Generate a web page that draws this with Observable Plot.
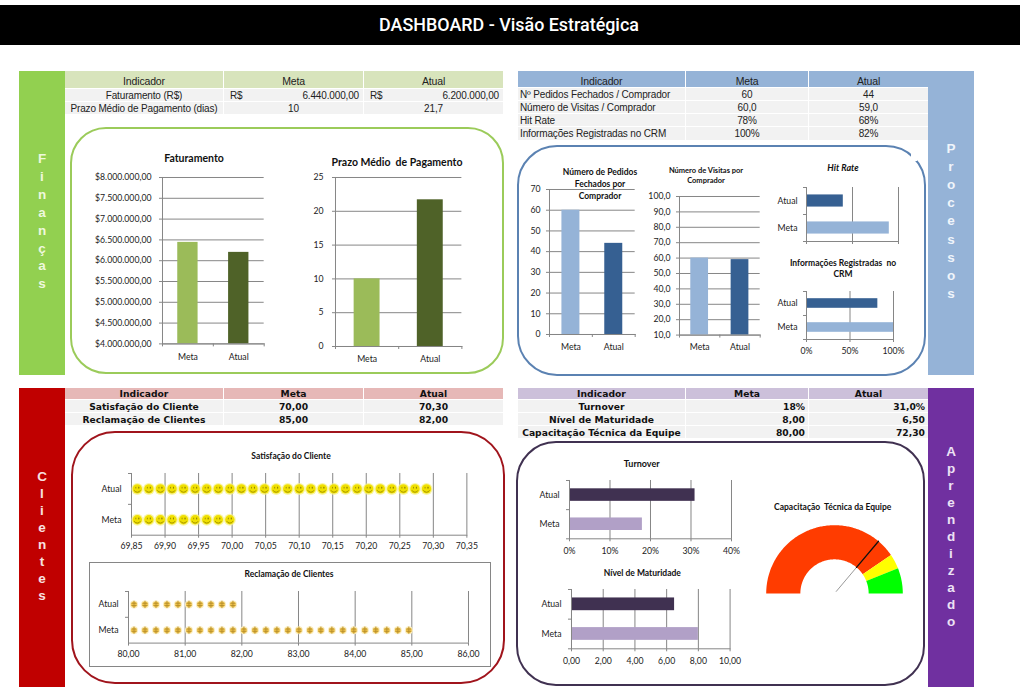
<!DOCTYPE html>
<html lang="pt-BR"><head><meta charset="utf-8">
<script src="https://cdn.jsdelivr.net/npm/d3@7"></script>
<script src="https://cdn.jsdelivr.net/npm/@observablehq/plot@0.6"></script>
<style>
html,body{margin:0;padding:0;background:#fff;width:1020px;height:695px;overflow:hidden}
#page{position:relative;width:1020px;height:695px;overflow:hidden;font-family:"Liberation Sans",sans-serif}
#page>*{position:absolute}
.t{white-space:pre;transform:translate(-50%,-50%);font-family:Lato,sans-serif;font-weight:700;color:#111;line-height:1}
.cell{white-space:pre;display:flex;align-items:center;box-sizing:border-box;color:#222;overflow:hidden}
svg{background:transparent!important;overflow:visible}
</style></head><body><div id="page"></div>
<script>
// ---------- data ----------
const categorias = ["Meta", "Atual"];
const categoriasH = ["Atual", "Meta"];
const faturamento = [6440000, 6200000];
const prazo = [10, 21.7];
const pedidos = [60, 44];
const visitas = [60, 59];
const hitRate = [78, 68];
const crm = [100, 82];
const satisfacao = [70.0, 70.3];
const reclamacao = [85, 82];
const turnover = [18, 31];
const maturidade = [8, 6.5];
const capacitacao = 72.3;
const gaugeLimites = [0, 81, 88, 100];
const gaugeCores = ["#FF3C00", "#FFFF00", "#00FF00"];

const ticksFat = [4, 4.5, 5, 5.5, 6, 6.5, 7, 7.5, 8].map(d => d * 1e6);
const ticksPrazo = [0, 5, 10, 15, 20, 25];
const ticksPedidos = [0, 10, 20, 30, 40, 50, 60, 70];
const ticksVisitas = [10, 20, 30, 40, 50, 60, 70, 80, 90, 100];
const ticksHit = [60, 70, 80];
const ticksCrm = [0, 50, 100];
const ticksSat = [69.85, 69.9, 69.95, 70, 70.05, 70.1, 70.15, 70.2, 70.25, 70.3, 70.35];
const ticksRec = [80, 81, 82, 83, 84, 85, 86];
const ticksTurn = [0, 10, 20, 30, 40];
const ticksMat = [0, 2, 4, 6, 8, 10];

const tabFinancas = [["Indicador", "Meta", "Atual"],
  ["Faturamento (R$)", "6.440.000,00", "6.200.000,00"],
  ["Prazo Médio de Pagamento (dias)", "10", "21,7"]];
const tabProcessos = [["Indicador", "Meta", "Atual"],
  ["Nº Pedidos Fechados / Comprador", "60", "44"],
  ["Número de Visitas / Comprador", "60,0", "59,0"],
  ["Hit Rate", "78%", "68%"],
  ["Informações Registradas no CRM", "100%", "82%"]];
const tabClientes = [["Indicador", "Meta", "Atual"],
  ["Satisfação do Cliente", "70,00", "70,30"],
  ["Reclamação de Clientes", "85,00", "82,00"]];
const tabAprendizado = [["Indicador", "Meta", "Atual"],
  ["Turnover", "18%", "31,0%"],
  ["Nível de Maturidade", "8,00", "6,50"],
  ["Capacitação Técnica da Equipe", "80,00", "72,30"]];

const verdes = ["#9BBB59", "#4F6228"];
const azuis = ["#95B3D7", "#366092"];
const roxos = ["#B1A0C7", "#403151"];
const GREY = "#868686";

// ---------- helpers ----------
const page = document.getElementById("page");
const loc = d3.formatLocale({decimal: ",", thousands: ".", grouping: [3], currency: ["$", ""]});
function box(x, y, w, h, css) {
  const d = document.createElement("div");
  d.style.cssText = `left:${x}px;top:${y}px;width:${w}px;height:${h}px;box-sizing:border-box;${css || ""}`;
  page.appendChild(d); return d;
}
function label(txt, cx, cy, size, extra) {
  const d = document.createElement("div");
  d.className = "t"; d.textContent = txt;
  d.style.cssText = `left:${cx}px;top:${cy}px;font-size:${size}px;${extra || ""}`;
  page.appendChild(d);
}
function side(x, w, y, h, color, txtColor, word, start, step) {
  box(x, y, w, h, `background:${color}`);
  [...word].forEach((c, i) => label(c, x + w / 2, start + i * step, 13.5,
    `font-family:'Liberation Sans';color:${txtColor}`));
}
function table(rows, xs, ys, headColor, o) {
  rows.forEach((r, ri) => r.forEach((txt, ci) => {
    const c = box(xs[ci], ys[ri], xs[ci + 1] - xs[ci] - (ci < 2 ? 1 : 0), ys[ri + 1] - ys[ri] - 1,
      `background:${ri ? "#F2F2F2" : headColor};` + o.font);
    c.className = "cell";
    const isHead = ri === 0;
    let al = "center";
    if (!isHead && ci === 0 && o.firstLeft) al = "flex-start";
    if (!isHead && ci > 0 && o.right) al = "flex-end";
    if (o.rs && !isHead && ri === 1 && ci > 0) {
      c.style.justifyContent = "space-between";
      c.style.padding = "0 4px 0 6px";
      c.innerHTML = `<span>R$</span><span>${txt}</span>`;
      return;
    }
    c.style.justifyContent = al;
    c.style.padding = al === "flex-start" ? "0 0 0 2px" : al === "flex-end" ? "0 3px 0 0" : "0";
    if (isHead && o.headPad) { c.style.paddingTop = o.headPad + "px"; c.style.fontSize = "10.5px"; }
    c.textContent = txt;
  }));
}
const M = {l: 90, r: 14, t: 8, b: 26};
function mount(rect, marks, opts) {
  const svg = Plot.plot({
    width: rect[1] - rect[0] + M.l + M.r,
    height: rect[3] - rect[2] + M.t + M.b,
    marginLeft: M.l, marginRight: M.r, marginTop: M.t, marginBottom: M.b,
    style: {fontFamily: "Lato, sans-serif", fontSize: "8.7px", color: "#222", background: "transparent"},
    marks, ...opts
  });
  svg.style.left = rect[0] - M.l + "px";
  svg.style.top = rect[2] - M.t + "px";
  svg.style.position = "absolute";
  page.appendChild(svg);
}
function colChart(rect, values, ticks, fmt, cores, padding, tickPad, labelPad) {
  const rows = categorias.map((c, i) => ({c, v: values[i]}));
  const y0 = ticks[0], y1 = ticks[ticks.length - 1];
  const step = (rect[1] - rect[0]) / 2;
  mount(rect, [
    Plot.gridY(ticks, {stroke: GREY, strokeOpacity: 1}),
    Plot.barY(rows, {x: "c", y1: y0, y2: "v", fill: "c"}),
    Plot.frame({anchor: "left", stroke: GREY}),
    Plot.frame({anchor: "bottom", stroke: GREY}),
    Plot.axisY({ticks, tickSize: 3, tickPadding: tickPad, tickFormat: fmt, label: null, stroke: GREY}),
    Plot.axisX({tickSize: 0, tickPadding: labelPad, label: null}),
    Plot.ruleX([categorias[0]], {x: d => d, y1: y0, y2: y0, dx: -step / 2 * 1, insetBottom: -3, stroke: GREY}),
    Plot.ruleX(categorias, {x: d => d, y1: y0, y2: y0, dx: step / 2, insetBottom: -3, stroke: GREY})
  ], {
    x: {domain: categorias, paddingInner: padding, paddingOuter: padding / 2, round: false, label: null},
    y: {domain: [y0, y1], label: null},
    color: {domain: categorias, range: cores}
  });
}
function barChart(rect, values, ticks, fmt, cores, padding, labelPad, tickPad) {
  const rows = categorias.map((c, i) => ({c, v: values[i]}));
  const x0 = ticks[0], x1 = ticks[ticks.length - 1];
  const step = (rect[3] - rect[2]) / 2;
  mount(rect, [
    Plot.gridX(ticks, {stroke: GREY, strokeOpacity: 1}),
    Plot.barX(rows, {y: "c", x1: x0, x2: "v", fill: "c"}),
    Plot.frame({anchor: "left", stroke: GREY}),
    Plot.frame({anchor: "bottom", stroke: GREY}),
    Plot.axisX({ticks, tickSize: 3, tickPadding: tickPad, tickFormat: fmt, label: null, stroke: GREY}),
    Plot.axisY({tickSize: 0, tickPadding: labelPad, label: null}),
    Plot.ruleY(categoriasH, {y: d => d, x1: x0, x2: x0, dy: -step / 2, insetLeft: -3, stroke: GREY}),
    Plot.ruleY(["Meta"], {y: d => d, x1: x0, x2: x0, dy: step / 2, insetLeft: -3, stroke: GREY})
  ], {
    y: {domain: categoriasH, paddingInner: padding, paddingOuter: padding / 2, round: false, label: null},
    x: {domain: [x0, x1], label: null},
    color: {domain: categorias, range: cores}
  });
}
const smile = {draw(c, s) {
  const r = Math.sqrt(s / Math.PI);
  c.moveTo(-r * .62, r * .3); c.arc(0, 0, r * .72, Math.PI * .86, Math.PI * .14, true);
  c.moveTo(-r * .32, -r * .45); c.lineTo(-r * .32, -r * .1);
  c.moveTo(r * .32, -r * .45); c.lineTo(r * .32, -r * .1);
  c.closePath();
}};
const coin = {draw(c, s) {
  const r = Math.sqrt(s / Math.PI);
  c.moveTo(0, -r * 1.15); c.lineTo(0, r * 1.15);
  c.moveTo(-r * .8, -r * .35); c.lineTo(r * .8, -r * .35);
  c.moveTo(-r * .8, r * .35); c.lineTo(r * .8, r * .35);
}};
function picto(rect, values, ticks, unit, marksFor) {
  const x0 = ticks[0], xN = ticks[ticks.length - 1];
  const pts = categorias.flatMap((c, i) =>
    d3.range(x0 + unit / 2, values[i], unit).map(v => ({c, v})));
  const step = (rect[3] - rect[2]) / 2;
  mount(rect, [
    Plot.gridX(ticks, {stroke: GREY, strokeOpacity: 1}),
    Plot.frame({anchor: "left", stroke: GREY}),
    Plot.frame({anchor: "bottom", stroke: GREY}),
    Plot.axisX({ticks, tickSize: 3, tickPadding: 5, tickFormat: loc.format(",.2f"), label: null, stroke: GREY}),
    Plot.axisY({tickSize: 0, tickPadding: 10, label: null}),
    Plot.ruleY(categoriasH, {y: d => d, x1: x0, x2: x0, dy: -step / 2, insetLeft: -3, stroke: GREY}),
    ...marksFor(pts)
  ], {
    y: {domain: categoriasH, round: false, paddingInner: 0, paddingOuter: 0, label: null},
    x: {domain: [x0, xN], label: null}
  });
}

// ---------- page ----------
box(0, 5, 1020, 40, "background:#000");
label("DASHBOARD - Visão Estratégica", 509, 25, 17.9, "font-family:Roboto;font-weight:500;color:#fff");

side(19, 46, 71, 304, "#92D050", "#EEF8DE", "Finanças", 159, 17.9);
side(928, 46, 71, 304, "#95B3D7", "#F0F5FB", "Processos", 149, 18.1);
side(19, 46, 388, 299, "#C00000", "#F8E0E0", "Clientes", 477, 17);
side(928, 46, 388, 299, "#7030A0", "#ECE2F5", "Aprendizado", 451.5, 17);

const fontN = "font-family:'Liberation Sans';font-size:10px;letter-spacing:-.15px;";
const fontB = "font-family:'DejaVu Sans';font-weight:700;font-size:9.2px;color:#111;";
table(tabFinancas, [65, 224, 364, 503], [71, 89, 102, 115], "#D8E4BC", {font: fontN, rs: true, headPad: 3});
table(tabProcessos, [518, 686, 809, 928], [71, 88, 101, 114, 127, 141], "#95B3D7", {font: fontN, firstLeft: true, headPad: 3});
table(tabClientes, [65, 224, 364, 503], [388, 400, 413, 426], "#E6B8B7", {font: fontB});
table(tabAprendizado, [518, 686, 809, 928], [388, 400, 413, 426, 439], "#CCC0DA", {font: fontB, right: true});

const panel = (x0, y0, x1, y1, c, r) => box(x0, y0, x1 - x0, y1 - y0, `border:2.5px solid ${c};border-radius:${r}px`);
panel(70, 127, 504, 374, "#9BCB5A", 36);
panel(517, 145, 926, 376, "#5B82B2", 40);
panel(71, 431, 505, 684, "#A0141C", 44);
panel(516, 441, 925, 686, "#403151", 40);
box(911, 153, 6, 8, "background:#fff");
box(89, 562, 402, 105, `border:1px solid ${GREY};background:#fff`);

// Finanças
const fmtReais = loc.format("$,.2f");
colChart([162.3, 264, 177.3, 343.7], faturamento, ticksFat, fmtReais, verdes, .6, 8, 9.5);
colChart([335.3, 461.7, 177.3, 346.3], prazo, ticksPrazo, d => d, verdes, .59, 9, 9);
label("Faturamento", 194, 157.7, 10.5);
label("Prazo Médio  de Pagamento", 397, 161.7, 10.5);

// Processos
colChart([549.3, 635, 189.3, 334.3], pedidos, ticksPedidos, d => d, azuis, .58, 6, 9);
colChart([679.3, 760, 195.7, 334.3], visitas, ticksVisitas, loc.format(",.1f"), azuis, .56, 6, 8.5);
barChart([806, 898, 186.7, 240.7], hitRate, ticksHit, () => "", azuis, .55, 9, 2);
barChart([806, 893, 290.7, 338.7], crm, ticksCrm, d => d + "%", azuis, .6, 9, 5);
label("Número de Pedidos", 600, 172, 8.5);
label("Fechados por", 600, 184, 8.5);
label("Comprador", 600, 196, 8.5);
label("Número de Visitas por", 706, 170.7, 7.5);
label("Comprador", 706, 181, 7.5);
label("Hit Rate", 843, 167, 9, "font-style:italic");
label("Informações Registradas  no", 843, 263, 8.5);
label("CRM", 843, 274, 8.5);

// Clientes
picto([131.3, 466.7, 473.3, 535], satisfacao, ticksSat, 0.01725, pts => [
  Plot.dot(pts, {x: "v", y: "c", r: 6, fill: "#F7F28C", fillOpacity: .75}),
  Plot.dot(pts, {x: "v", y: "c", r: 4.7, fill: "#F0E000"}),
  Plot.dot(pts, {x: "v", y: "c", r: 4.6, symbol: smile, fill: "none", stroke: "#8F7F00", strokeWidth: .8})
]);
picto([128.3, 468.3, 590.7, 642.3], reclamacao, ticksRec, 0.194, pts => [
  Plot.dot(pts, {x: "v", y: "c", r: 4, fill: "#FBEDBE"}),
  Plot.dot(pts, {x: "v", y: "c", r: 2.8, fill: "#F0C24A"}),
  Plot.dot(pts, {x: "v", y: "c", r: 3.2, symbol: coin, fill: "none", stroke: "#B08A2A", strokeWidth: .8})
]);
label("Satisfação do Cliente", 291, 456, 8.5);
label("Reclamação de Clientes", 289, 574, 8.5);

// Aprendizado
barChart([569.3, 731.3, 480, 538.3], turnover, ticksTurn, d => d + "%", roxos, .57, 10, 6);
barChart([570.7, 729.3, 589, 648.3], maturidade, ticksMat, loc.format(",.2f"), roxos, .57, 10, 6);
label("Turnover", 641.7, 462.7, 9);
label("Nível de Maturidade", 642.3, 573.3, 8.5);
label("Capacitação  Técnica da Equipe", 832.7, 507, 8.5);

// Gauge: value 0..100 mapped on a half circle
const gaugeAng = v => Math.PI * (1 - v / 100);
const arcPts = (a, b) => {
  const vs = d3.range(a, b, .5).concat(b);
  return [...vs.map(v => [Math.cos(gaugeAng(v)), Math.sin(gaugeAng(v))]),
          ...vs.reverse().map(v => [.5 * Math.cos(gaugeAng(v)), .5 * Math.sin(gaugeAng(v))])];
};
const gW = 140, gH = 72;
const gauge = Plot.plot({
  width: gW, height: gH, margin: 0,
  x: {domain: [-70 / 68.3, 70 / 68.3], axis: null},
  y: {domain: [-2 / 68.3, 70 / 68.3], axis: null},
  style: {background: "transparent"},
  marks: [
    ...gaugeCores.map((c, i) => Plot.line(arcPts(gaugeLimites[i], gaugeLimites[i + 1]),
      {x: "0", y: "1", fill: c, stroke: null, curve: "linear-closed"})),
    Plot.line([[.04 * Math.cos(gaugeAng(capacitacao)) , .04 * Math.sin(gaugeAng(capacitacao))],
               [.5 * Math.cos(gaugeAng(capacitacao)), .5 * Math.sin(gaugeAng(capacitacao))]],
      {x: "0", y: "1", stroke: "#999", strokeWidth: 1}),
    Plot.line([[.5 * Math.cos(gaugeAng(capacitacao)), .5 * Math.sin(gaugeAng(capacitacao))],
               [Math.cos(gaugeAng(capacitacao)), Math.sin(gaugeAng(capacitacao))]],
      {x: "0", y: "1", stroke: "#111", strokeWidth: 1.3})
  ]
});
gauge.style.cssText += ";position:absolute;left:763.7px;top:523.3px";
page.appendChild(gauge);
</script></body></html>
